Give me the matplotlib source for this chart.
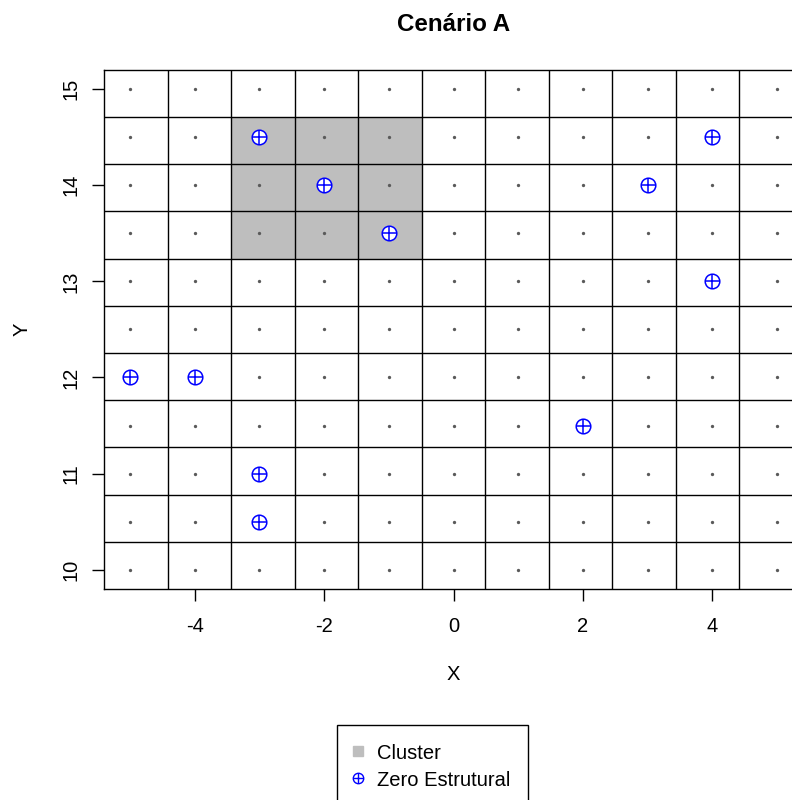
import matplotlib
matplotlib.use('Agg')
import matplotlib.pyplot as plt
from matplotlib.patches import Rectangle
from matplotlib.lines import Line2D

# ---- data ----
x_vals = [-5, -4, -3, -2, -1, 0, 1, 2, 3, 4, 5]
y_vals = [10.0, 10.5, 11.0, 11.5, 12.0, 12.5, 13.0, 13.5, 14.0, 14.5, 15.0]

cluster_x = [-3, -2, -1, -3, -2, -1, -3, -2, -1]
cluster_y = [14.5, 14.5, 14.5, 14.0, 14.0, 14.0, 13.5, 13.5, 13.5]

zero_x = [-3, -2, -1, 3, 4, 4, -5, -4, 2, -3, -3]
zero_y = [14.5, 14.0, 13.5, 14.0, 14.5, 13.0, 12.0, 12.0, 11.5, 11.0, 10.5]

x_ticks = [-4, -2, 0, 2, 4]
y_ticks = [10, 11, 12, 13, 14, 15]

title = 'Cenário A'
legend_labels = ['Cluster', 'Zero Estrutural']

# ---- figure ----
plt.rcParams['font.family'] = ['Liberation Sans', 'DejaVu Sans']
plt.rcParams['axes.unicode_minus'] = False
fig = plt.figure(figsize=(7.92, 8.0), dpi=100)
ax = fig.add_axes([104 / 792, 211 / 800, 699 / 792, (589 - 69.8) / 800])

xlim = (-5.4, 5.4)
ylim = (9.8, 15.2)
ax.set_xlim(xlim)
ax.set_ylim(ylim)

nx = len(x_vals)
ny = len(y_vals)
cw = (xlim[1] - xlim[0]) / nx
ch = (ylim[1] - ylim[0]) / ny

grey = '#BEBEBE'
for cx, cy in zip(cluster_x, cluster_y):
    ix = x_vals.index(cx)
    iy = y_vals.index(cy)
    ax.add_patch(Rectangle((xlim[0] + ix * cw, ylim[0] + iy * ch), cw, ch,
                           facecolor=grey, edgecolor='none', zorder=1))

for k in range(1, nx):
    ax.axvline(xlim[0] + k * cw, color='black', lw=1.0, zorder=2)
for k in range(1, ny):
    ax.axhline(ylim[0] + k * ch, color='black', lw=1.0, zorder=2)

gx = [x for y in y_vals for x in x_vals]
gy = [y for y in y_vals for x in x_vals]
ax.plot(gx, gy, ls='none', marker='o', ms=2.4, mfc='#5a5a5a', mec='none', zorder=3)

ax.plot(zero_x, zero_y, ls='none', marker='o', ms=10.5, mfc='white', mec='blue', mew=1.1, zorder=4)
ax.plot(zero_x, zero_y, ls='none', marker='+', ms=10.5, mec='blue', mew=1.1, zorder=5)

for s in ax.spines.values():
    s.set_color('black')
    s.set_linewidth(1.0)
    s.set_zorder(6)

ax.set_xticks(x_ticks)
ax.set_yticks(y_ticks)
ax.tick_params(axis='both', length=8.6, width=1.0, color='black', labelsize=14.5)
ax.tick_params(axis='x', pad=11.5)
ax.tick_params(axis='y', pad=8)
plt.setp(ax.get_yticklabels(), rotation=90, va='center')

ax.set_title(title, fontsize=17.4, fontweight='bold', pad=28)
ax.set_xlabel('X', fontsize=14.5)
ax.set_ylabel('Y', fontsize=14.5)
ax.xaxis.set_label_coords(0.5, -0.146)
ax.yaxis.set_label_coords(-0.103, 0.5)

h1 = Line2D([], [], ls='none', marker='s', ms=7.5, mfc=grey, mec=grey)
hc = Line2D([], [], ls='none', marker='o', ms=7.5, mfc='white', mec='blue', mew=1.0)
hp = Line2D([], [], ls='none', marker='+', ms=7.5, mec='blue', mew=1.0)
leg = fig.legend([h1, (hc, hp)], legend_labels, loc='upper left',
                 bbox_to_anchor=(336.7 / 792, 1 - 725 / 800), bbox_transform=fig.transFigure,
                 frameon=True, fancybox=False, edgecolor='black', framealpha=1,
                 fontsize=14.5, handlelength=0.35, handleheight=1.15, handletextpad=0.77,
                 borderpad=0.87, labelspacing=0.3, borderaxespad=0)
leg.get_frame().set_linewidth(1.0)

fig.savefig('out.png', dpi=100)
